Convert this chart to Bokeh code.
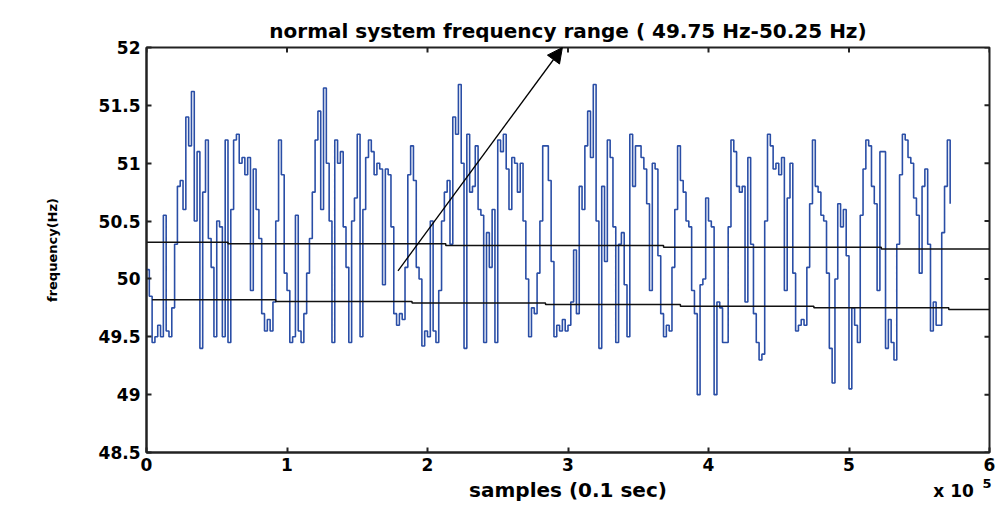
import math
from bokeh.plotting import figure
from bokeh.models import Range1d, FixedTicker, Label, Arrow, NormalHead
from bokeh.embed import file_html
from bokeh.resources import INLINE

# ---- data (x in units of 10^5 samples, y in Hz) ----
sample_step = 0.02

freq_seg1 = [50.08, 49.85, 49.45, 49.5, 49.6, 49.5, 50.55, 49.55, 49.5, 49.75,
             50.3, 50.8, 50.85, 50.6, 51.4, 51.15, 51.62, 50.5, 51.1, 49.4,
             50.75, 51.2, 50.35, 50.1, 49.5, 50.5, 50.45, 49.5, 51.2, 49.45,
             50.6, 51.2, 51.25, 51.0, 51.05, 50.9, 51.05, 49.9, 50.95, 50.6,
             50.35, 49.7, 49.55, 49.65, 49.55, 49.8, 50.5, 51.2, 50.9, 50.05,
             49.9, 49.45, 49.5, 50.55, 49.55, 49.45, 49.7, 50.05, 50.35, 50.75,
             51.2, 51.45, 50.6, 51.65, 51.0, 50.5, 49.45, 51.2, 51.0, 51.1,
             50.45, 50.1, 49.45, 50.5]

freq_seg2 = [50.7, 51.25, 49.5, 50.6, 51.05, 51.2, 51.1, 50.9, 51.0, 50.95,
             49.95, 50.95, 50.9, 50.45, 49.7, 49.6, 49.7, 49.65, 50.1, 50.9,
             51.15, 50.85, 50.1, 50.0, 49.42, 49.55, 49.5, 50.5, 49.55, 49.45,
             49.9, 50.5, 50.75, 50.85, 50.3, 51.4, 51.25, 51.68, 51.0, 49.4,
             51.25, 50.75, 50.8, 51.15, 50.6, 50.55, 49.45, 50.4, 50.1, 50.6,
             49.45, 51.2, 51.1, 51.25, 50.95, 50.6, 51.05, 51.0, 50.75, 51.0,
             50.5, 50.0, 49.5, 49.75, 49.7, 50.05, 50.5, 51.15, 51.15, 50.85,
             50.15, 49.5, 49.6, 49.55, 49.65, 49.55, 49.6]

freq_seg3 = [49.8, 50.25, 49.7, 50.8, 50.6, 51.15, 51.45, 51.05, 51.68, 50.5,
             49.4, 50.8, 50.15, 51.2, 51.05, 50.45, 49.45, 50.3, 50.4, 49.95,
             49.5, 51.25, 50.8, 51.15, 51.15, 51.05, 50.95, 50.65, 49.9, 51.0,
             50.95, 50.2, 49.7, 49.5, 49.6, 49.55, 50.1, 50.6, 51.15, 50.85,
             50.75, 50.5, 50.45, 49.9, 49.7, 49.0, 49.95, 50.0, 50.7, 50.5,
             50.45, 49.0, 49.8, 49.75, 49.45, 49.45, 50.45, 51.2, 51.1, 50.8,
             50.75, 50.8, 49.8, 51.05, 50.3, 49.7, 49.45, 49.3, 49.35, 50.5,
             51.25, 51.15, 50.95]

freq_seg4 = [51.0, 50.9, 51.05, 49.9, 50.7, 51.0, 50.05, 49.55, 49.6, 49.65,
             49.6, 50.1, 50.65, 51.2, 50.8, 50.75, 50.55, 50.5, 50.05, 49.4,
             49.1, 50.0, 50.65, 50.45, 50.6, 50.2, 49.05, 49.75, 49.6, 49.45,
             50.55, 50.95, 51.2, 51.15, 50.8, 50.65, 49.9, 51.1, 51.1, 49.4,
             49.65, 49.45, 49.3, 50.3, 50.9, 51.25, 51.2, 51.05, 51.0, 50.7,
             50.55, 50.05, 50.8, 50.95, 50.3, 49.55, 49.8, 49.6, 49.6, 50.4,
             50.8, 51.2, 50.65]

freq = freq_seg1 + freq_seg2 + freq_seg3 + freq_seg4
samples = [i * sample_step for i in range(len(freq))]

upper_x = [0.0, 0.58, 2.13, 3.68, 5.23, 6.0]
upper_y = [50.317, 50.303, 50.288, 50.274, 50.259, 50.259]
lower_x = [0.04, 0.92, 1.89, 2.84, 3.80, 4.75, 5.71, 6.0]
lower_y = [49.819, 49.805, 49.792, 49.779, 49.763, 49.750, 49.735, 49.735]

arrow_start = (1.79, 50.07)
arrow_end = (2.96, 52.0)

x_ticks = [0, 1, 2, 3, 4, 5, 6]
x_tick_labels = ["0", "1", "2", "3", "4", "5", "6"]
y_ticks = [48.5, 49, 49.5, 50, 50.5, 51, 51.5, 52]
y_tick_labels = ["48.5", "49", "49.5", "50", "50.5", "51", "51.5", "52"]

FONT = "DejaVu Sans"
AXIS_COLOR = "#222222"

p = figure(width=998, height=506, output_backend="svg", toolbar_location=None,
           x_range=Range1d(0, 6), y_range=Range1d(48.5, 52),
           min_border_left=146, min_border_right=8, min_border_top=47,
           min_border_bottom=54,
           title="normal system frequency range ( 49.75 Hz-50.25 Hz)")
p.background_fill_color = "white"
p.border_fill_color = "white"
p.outline_line_color = AXIS_COLOR
p.outline_line_width = 2
p.grid.visible = False

p.title.align = "center"
p.title.text_font = FONT
p.title.text_font_size = "20px"
p.title.text_font_style = "bold"
p.title.text_color = "black"
p.title.standoff = 9

for ax in (p.xaxis[0], p.yaxis[0]):
    ax.major_label_text_font = FONT
    ax.major_label_text_font_size = "17px"
    ax.major_label_text_font_style = "bold"
    ax.major_label_text_color = "black"
    ax.major_tick_in = 5
    ax.major_tick_out = 0
    ax.major_tick_line_width = 2
    ax.major_tick_line_color = AXIS_COLOR
    ax.minor_tick_line_color = None
    ax.axis_line_width = 2
    ax.axis_line_color = AXIS_COLOR
    ax.axis_label_text_font = FONT
    ax.axis_label_text_font_style = "bold"
    ax.axis_label_text_color = "black"

p.xaxis[0].ticker = FixedTicker(ticks=x_ticks)
p.xaxis[0].major_label_overrides = dict(zip(x_ticks, x_tick_labels))
p.xaxis[0].major_label_standoff = 5
p.xaxis[0].axis_label = "samples (0.1 sec)"
p.xaxis[0].axis_label_text_font_size = "20px"
p.xaxis[0].axis_label_standoff = 4

p.yaxis[0].ticker = FixedTicker(ticks=y_ticks)
p.yaxis[0].major_label_overrides = dict(zip(y_ticks, y_tick_labels))
p.yaxis[0].major_label_standoff = 6
p.yaxis[0].axis_label = "frequency(Hz)"
p.yaxis[0].axis_label_text_font_size = "13px"
p.yaxis[0].axis_label_standoff = 36

# inward ticks on the top and right edges of the box (clipped to the frame)
p.scatter(x_ticks, [52] * len(x_ticks), marker="dash", angle=math.pi / 2, size=10,
          line_color=AXIS_COLOR, line_width=2)
p.scatter([6] * len(y_ticks), y_ticks, marker="dash", size=10,
          line_color=AXIS_COLOR, line_width=2)

# signal
p.step(samples, freq, mode="after", line_color="#2a4ea6", line_width=1.6)

# normal range limits
p.step(upper_x, upper_y, mode="after", line_color="#111111", line_width=1.5)
p.step(lower_x, lower_y, mode="after", line_color="#111111", line_width=1.5)

p.add_layout(Arrow(x_start=arrow_start[0], y_start=arrow_start[1],
                   x_end=arrow_end[0], y_end=arrow_end[1],
                   line_color="black", line_width=1.3,
                   end=NormalHead(size=15, fill_color="black", line_color="black")))

# axis multiplier "x 10^5": kept in side panels (drawn at data coords, not clipped
# by the frame) where there is spare room, so the frame keeps its size
p.add_layout(Label(x=5.6, y=48.085, text="x 10", text_font=FONT,
                   text_font_size="17px", text_font_style="bold", text_color="black",
                   text_baseline="bottom"), "left")
p.add_layout(Label(x=5.95, y=48.19, text="5", text_font=FONT,
                   text_font_size="13px", text_font_style="bold", text_color="black",
                   text_baseline="bottom"), "right")

open("out.html", "w").write(file_html(p, INLINE))
